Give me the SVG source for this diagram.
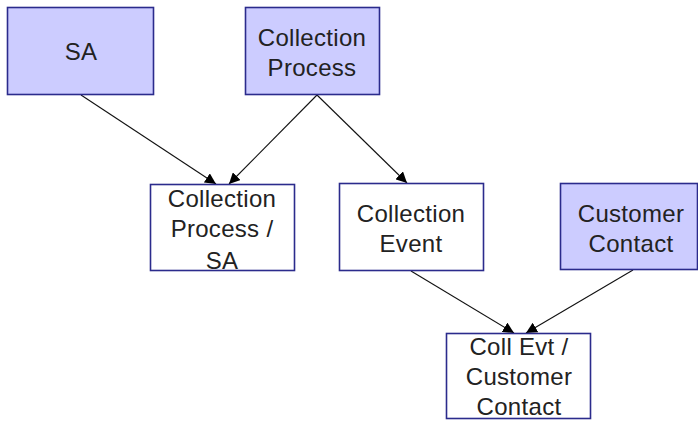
<svg xmlns="http://www.w3.org/2000/svg" width="698" height="422" viewBox="0 0 698 422">
<defs>
<style>
.box{stroke:#2b2b8c;stroke-width:1.6}
.ent{fill:#ccccff}
.rel{fill:#ffffff}
text{font-family:"Liberation Sans",Arial,sans-serif;font-size:24px;fill:#222;text-anchor:middle;letter-spacing:0.3px}
.c line{stroke:#111;stroke-width:1.1;marker-end:url(#ah)}
</style>
<marker id="ah" viewBox="0 0 10 10" refX="10" refY="5" markerWidth="11" markerHeight="11" markerUnits="userSpaceOnUse" orient="auto">
<path d="M0,0 L10,5 L0,10 z" fill="#000"/>
</marker>
</defs>
<rect width="698" height="422" fill="#fff"/>
<g class="c" id="connectors">
<line x1="81" y1="95" x2="216" y2="184"/>
<line x1="317" y1="95" x2="229" y2="184"/>
<line x1="317" y1="95" x2="407" y2="183"/>
<line x1="411" y1="271" x2="514" y2="333"/>
<line x1="633" y1="270" x2="526" y2="333"/>
</g>
<g id="sa"><rect class="box ent" x="7.5" y="7.5" width="146" height="87"/><text x="81" y="60">SA</text></g>
<g id="cp"><rect class="box ent" x="245.5" y="7.5" width="134" height="87"/><text x="312" y="46">Collection</text><text x="312" y="76">Process</text></g>
<g id="cpsa"><rect class="box rel" x="150.5" y="184.5" width="144" height="86"/><text x="222" y="207">Collection</text><text x="222" y="237">Process /</text><text x="222" y="269">SA</text></g>
<g id="ce"><rect class="box rel" x="339.5" y="183.5" width="144" height="87"/><text x="411" y="222">Collection</text><text x="411" y="252">Event</text></g>
<g id="cc"><rect class="box ent" x="560.5" y="183.5" width="137" height="86"/><text x="631" y="222">Customer</text><text x="631" y="252">Contact</text></g>
<g id="cecc"><rect class="box rel" x="446.5" y="333.5" width="144" height="85"/><text x="519" y="355">Coll Evt /</text><text x="519" y="385">Customer</text><text x="519" y="415">Contact</text></g>
</svg>
